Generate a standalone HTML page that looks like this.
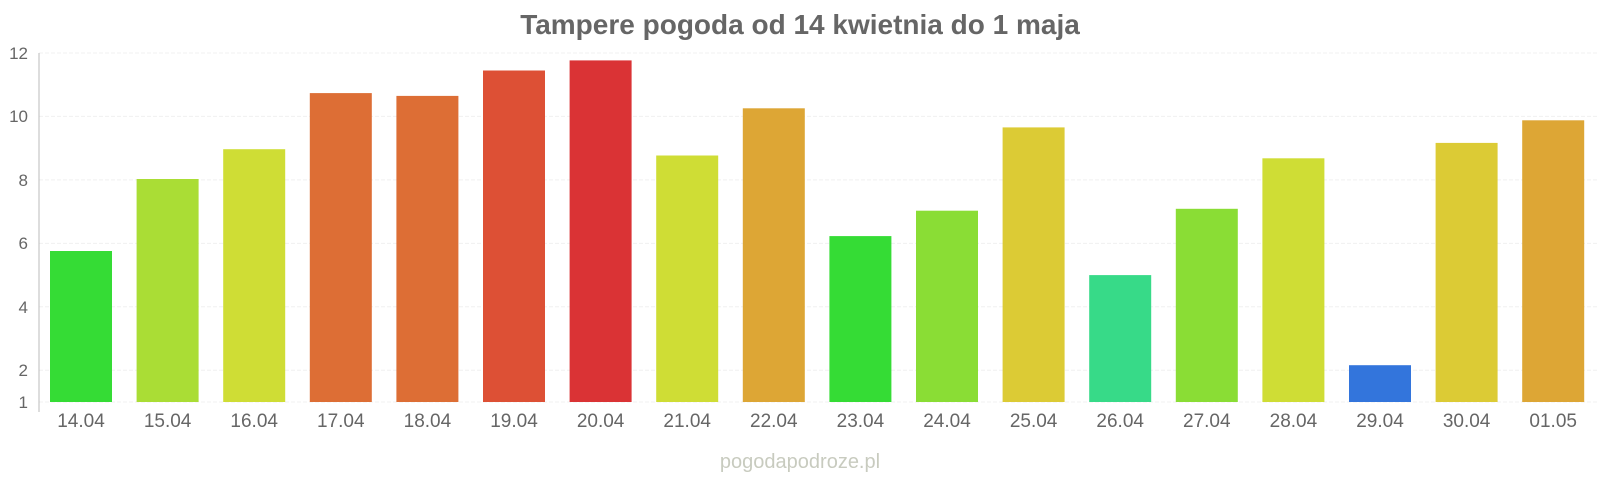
<!DOCTYPE html>
<html><head><meta charset="utf-8"><style>
html,body{margin:0;padding:0;background:#fff;}
svg{display:block;font-family:"Liberation Sans",sans-serif;}
</style></head><body>
<svg width="1600" height="480" viewBox="0 0 1600 480" xmlns="http://www.w3.org/2000/svg">
<text x="800" y="34" text-anchor="middle" font-size="28" font-weight="bold" fill="#666">Tampere pogoda od 14 kwietnia do 1 maja</text>
<g stroke="#f0f0f0" stroke-width="1" stroke-dasharray="4,2">
<line x1="39" x2="1597" y1="53" y2="53"/>
<line x1="39" x2="1597" y1="116.4" y2="116.4"/>
<line x1="39" x2="1597" y1="179.9" y2="179.9"/>
<line x1="39" x2="1597" y1="243.4" y2="243.4"/>
<line x1="39" x2="1597" y1="306.8" y2="306.8"/>
<line x1="39" x2="1597" y1="370.3" y2="370.3"/>
<line x1="39" x2="1597" y1="402" y2="402"/>
</g>
<line x1="39" x2="39" y1="53" y2="412" stroke="#bbb" stroke-width="1"/>
<g font-size="17" fill="#666" text-anchor="end">
<text x="28" y="59">12</text>
<text x="28" y="122">10</text>
<text x="28" y="186">8</text>
<text x="28" y="249">6</text>
<text x="28" y="313">4</text>
<text x="28" y="376">2</text>
<text x="28" y="408">1</text>
</g>
<g>
<rect x="50" y="251" width="62" height="151" fill="#35dc35"/>
<rect x="136.6" y="179.0" width="62" height="223" fill="#aadd35"/>
<rect x="223.2" y="149.2" width="62" height="252.8" fill="#cfdd35"/>
<rect x="309.8" y="93.1" width="62" height="308.9" fill="#dd6e35"/>
<rect x="396.4" y="95.9" width="62" height="306.1" fill="#dd6e35"/>
<rect x="483" y="70.5" width="62" height="331.5" fill="#dd5035"/>
<rect x="569.6" y="60.4" width="62" height="341.6" fill="#da3335"/>
<rect x="656.2" y="155.5" width="62" height="246.5" fill="#cfdd35"/>
<rect x="742.8" y="108.3" width="62" height="293.7" fill="#dda635"/>
<rect x="829.4" y="236.1" width="62" height="165.9" fill="#35dc35"/>
<rect x="916" y="210.7" width="62" height="191.3" fill="#8add35"/>
<rect x="1002.6" y="127.4" width="62" height="274.6" fill="#dccb35"/>
<rect x="1089.2" y="275.1" width="62" height="126.9" fill="#37da88"/>
<rect x="1175.8" y="208.8" width="62" height="193.2" fill="#8add35"/>
<rect x="1262.4" y="158.3" width="62" height="243.7" fill="#cfdd35"/>
<rect x="1349" y="365.2" width="62" height="36.8" fill="#3375dc"/>
<rect x="1435.6" y="142.9" width="62" height="259.1" fill="#dccb35"/>
<rect x="1522.2" y="120.3" width="62" height="281.7" fill="#dda635"/>
</g>
<g font-size="19" fill="#666" text-anchor="middle">
<text x="81" y="427">14.04</text>
<text x="167.6" y="427">15.04</text>
<text x="254.2" y="427">16.04</text>
<text x="340.8" y="427">17.04</text>
<text x="427.4" y="427">18.04</text>
<text x="514" y="427">19.04</text>
<text x="600.6" y="427">20.04</text>
<text x="687.2" y="427">21.04</text>
<text x="773.8" y="427">22.04</text>
<text x="860.4" y="427">23.04</text>
<text x="947" y="427">24.04</text>
<text x="1033.6" y="427">25.04</text>
<text x="1120.2" y="427">26.04</text>
<text x="1206.8" y="427">27.04</text>
<text x="1293.4" y="427">28.04</text>
<text x="1380" y="427">29.04</text>
<text x="1466.6" y="427">30.04</text>
<text x="1553.2" y="427">01.05</text>
</g>
<text x="800" y="468" text-anchor="middle" font-size="20" fill="#c8cbbf">pogodapodroze.pl</text>
</svg>
</body></html>
